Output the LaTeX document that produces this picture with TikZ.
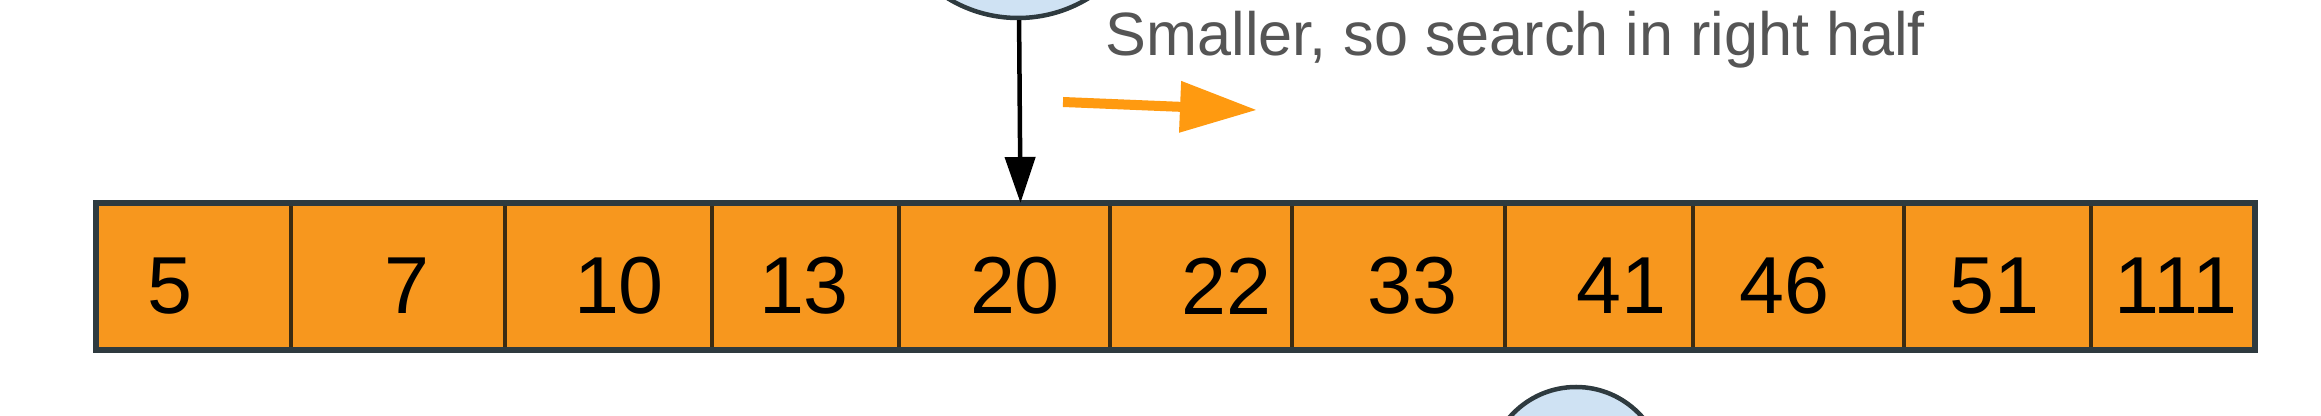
\documentclass[tikz,border=0pt]{standalone}
\usepackage{fontspec}
\setmainfont{Liberation Sans}
\usepackage{tikz}
\usetikzlibrary{calc,arrows.meta}
\definecolor{cellfill}{HTML}{F7971E}
\definecolor{edge}{HTML}{2E3A3F}
\definecolor{divider}{HTML}{3B2B12}
\definecolor{nodefill}{HTML}{CFE2F3}
\definecolor{note}{HTML}{555555}
\definecolor{hint}{HTML}{FF9A10}
\tikzset{
  cell/.style={draw=divider, fill=cellfill, line width=0.4mm, minimum height=14.7mm, inner sep=0pt, outer sep=0pt},
  frame/.style={draw=edge, line width=0.6mm},
  num/.style={text=black, font=\fontsize{23}{26}\selectfont, inner sep=0pt},
  tnode/.style={circle, draw=edge, fill=nodefill, line width=0.45mm, inner sep=0pt},
  ptr/.style={draw=black, line width=0.45mm, -{Triangle[length=4.6mm,width=3mm]}},
  dir/.style={draw=hint, line width=1mm, -{Triangle[length=7.7mm,width=4.9mm]}},
  lab/.style={text=note, font=\fontsize{17.4}{20}\selectfont, inner sep=0pt},
}

\begin{document}
\begin{tikzpicture}[x=0.1mm, y=-0.1mm]
  \useasboundingbox (0,0) rectangle (2321,416);
  % sorted array
  \foreach \i/\l/\r/\v/\nx in {1/96/291/5/170, 2/291/505/7/407, 3/505/712/10/619,
      4/712/899/13/804, 5/899/1110/20/1015, 6/1110/1292/22/1226, 7/1292/1505/33/1412,
      8/1505/1693/41/1621, 9/1693/1904/46/1784, 10/1904/2091/51/1994, 11/2091/2255/111/2176}{
    \pgfmathsetmacro\w{(\r-\l)/10}
    \node[cell, minimum width=\w mm] (c\i) at ({(\l+\r)/2},276.5) {};
    \node[num] (n\i) at (\nx,286) {\v};
  }
  \draw[frame] (c1.north west) rectangle (c11.south east);
  % tree nodes
  \node[tnode, minimum size=27mm] (pivot) at (1018,-117) {};
  \node[tnode, minimum size=17.6mm] (next) at (1576,475) {};
  \draw[ptr] (pivot) -- ([xshift=1.6mm]c5.north);
  % hint
  \node[lab, anchor=base west] (hintlab) at (1105,56) {Smaller, so search in right half};
  \coordinate (dirA) at (1063,102);
  \coordinate (dirB) at (1257,110);
  \draw[dir] (dirA) -- (dirB);
\end{tikzpicture}
\end{document}
